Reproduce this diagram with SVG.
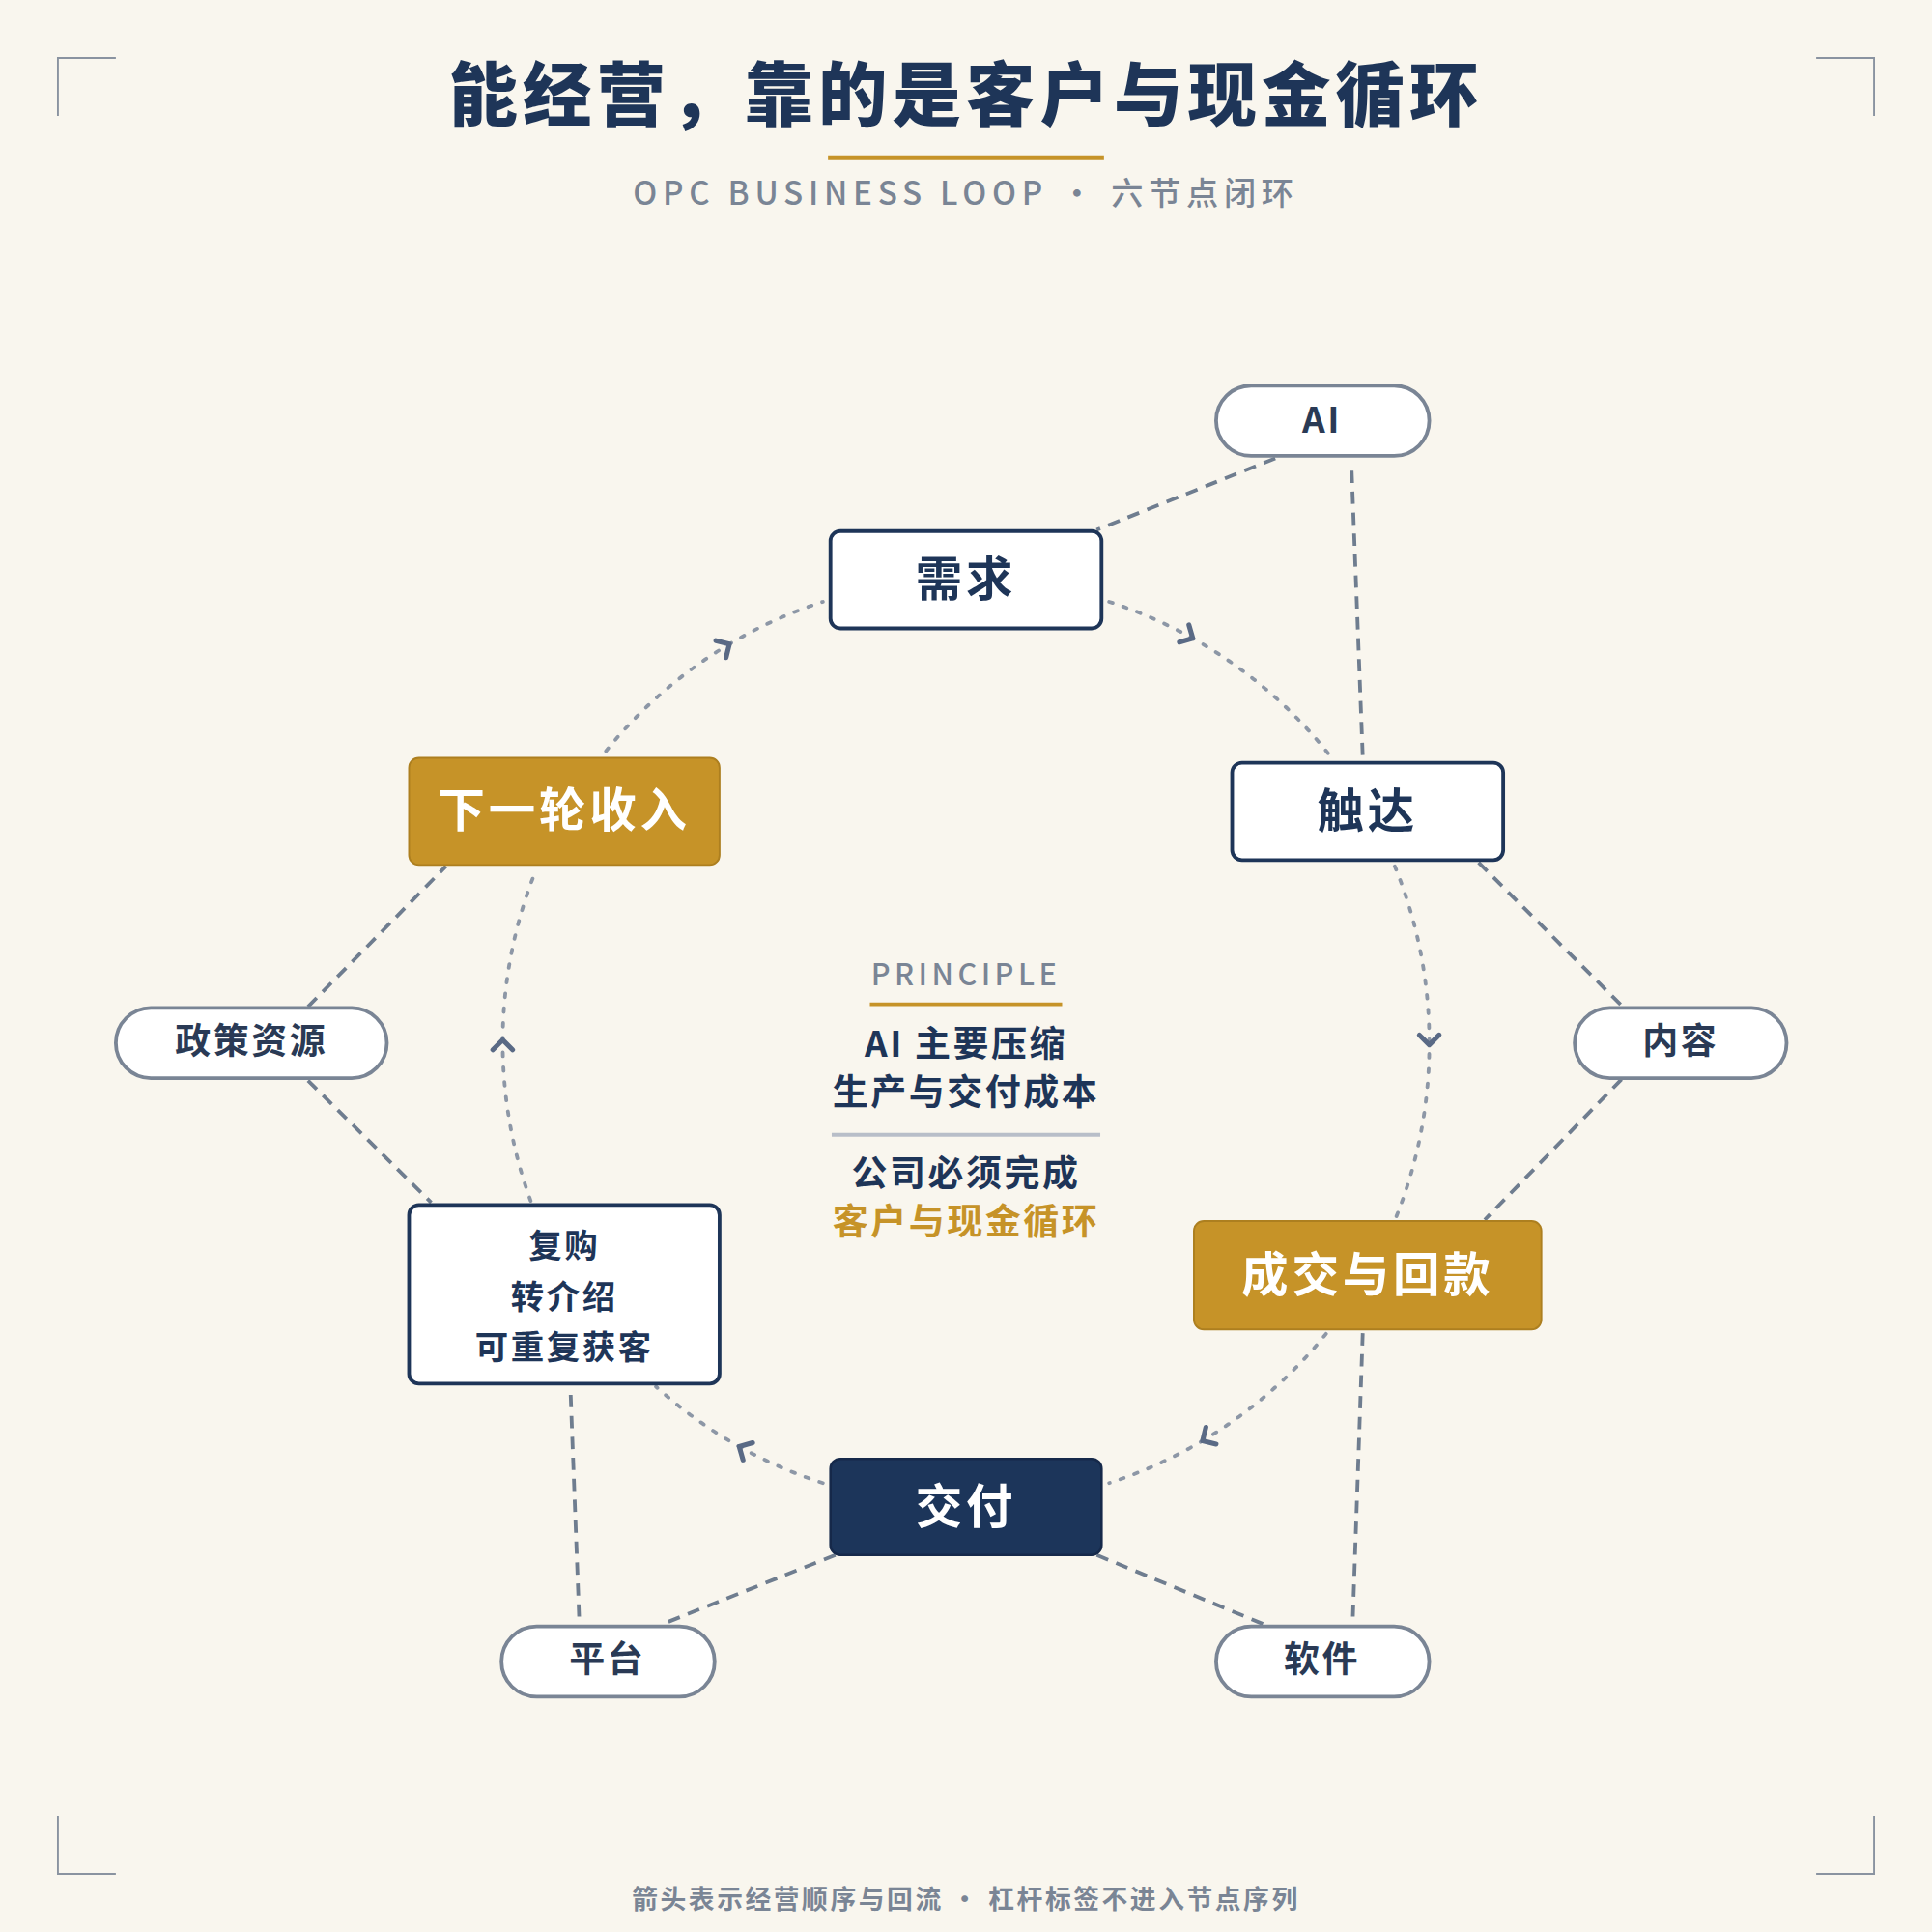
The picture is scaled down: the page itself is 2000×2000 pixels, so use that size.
<svg xmlns="http://www.w3.org/2000/svg" width="2000" height="2000" viewBox="0 0 2000 2000">
<defs>
<style>
text{font-family:"Noto Sans CJK SC","Noto Sans",sans-serif;text-anchor:middle}
.box{fill:#fff;stroke:#1e3558;stroke-width:3}
.gold{fill:#c69328;stroke:#ad7f1f;stroke-width:1.5}
.navy{fill:#1c355a;stroke:#16294a;stroke-width:2}
.pill{fill:#fff;stroke:#7a8595;stroke-width:3}
.nt{font-size:38px;font-weight:700;fill:#1e3558;letter-spacing:3px}
.wt{font-size:38px;font-weight:700;fill:#fff;letter-spacing:3px}
.pt{font-size:29px;font-weight:700;fill:#2a3a55;letter-spacing:2px}
.ct{font-size:29px;font-weight:700;fill:#1e3558;letter-spacing:2px}
.lever{stroke:#6f7d8f;stroke-width:3;stroke-dasharray:10 7;fill:none}
.cyc{stroke:#8d97a6;stroke-width:3;stroke-dasharray:3 9;stroke-linecap:round;fill:none;marker-mid:url(#chev)}
.corner{stroke:#8a93a0;stroke-width:1.5;fill:none}
</style>
<marker id="chev" markerUnits="userSpaceOnUse" markerWidth="24" markerHeight="24" refX="12" refY="12" orient="auto" viewBox="0 0 24 24">
<path d="M6 4 L14 12 L6 20" fill="none" stroke="#5a6a85" stroke-width="4" stroke-linecap="round" stroke-linejoin="round"/>
</marker>
</defs>
<rect width="2000" height="2000" fill="#f9f6ee"/>
<g transform="scale(1.27551)">
<g id="corners">
<path class="corner" d="M47 94V47H94M1474 47H1521V94M47 1474V1521H94M1474 1521H1521V1474"/>
</g>
<g id="title">
<text x="784" y="97" style="font-size:56px;font-weight:900;fill:#1e3558;letter-spacing:4px">能经营，靠的是客户与现金循环</text>
<line x1="672" y1="128" x2="896" y2="128" stroke="#c69328" stroke-width="4"/>
<text x="784" y="166" style="font-size:26px;font-weight:500;fill:#7a8595;letter-spacing:4.5px">OPC BUSINESS LOOP  •  六节点闭环</text>
</g>
<g id="connectors">
<path class="lever" d="M1035 372L890 430M1097 382L1106 614M1200 700L1318 818M1316 876L1205 990M1106 1082L1098 1312M1025 1318L890 1262M678 1262L538 1318M470 1312L463 1128M250 817L362 703M250 877L350 976"/>
<path class="cyc" d="M900.2 488.4A376 376 0 0 1 966.3 517.1A376 376 0 0 1 1080.3 614.4"/>
<path class="cyc" d="M1132 703A376 376 0 0 1 1160 846A376 376 0 0 1 1133 988"/>
<path class="cyc" d="M1076.2 1082.6A376 376 0 0 1 977.7 1168.3A376 376 0 0 1 900.2 1203.6"/>
<path class="cyc" d="M667.8 1203.6A376 376 0 0 1 601.7 1175A376 376 0 0 1 532.4 1125.4"/>
<path class="cyc" d="M430.7 974.6A376 376 0 0 1 408 846A376 376 0 0 1 435.4 705.2"/>
<path class="cyc" d="M491.8 609.5A376 376 0 0 1 590.3 523.7A376 376 0 0 1 667.8 488.4"/>
</g>
<g id="n-xuqiu"><rect class="box" x="674" y="431" width="220" height="79" rx="8"/><text class="nt" x="784" y="484">需求</text></g>
<g id="n-chuda"><rect class="box" x="1000" y="619" width="220" height="79" rx="8"/><text class="nt" x="1110" y="672">触达</text></g>
<g id="n-chengjiao"><rect class="gold" x="969" y="991" width="282" height="88" rx="8"/><text class="wt" x="1110" y="1048">成交与回款</text></g>
<g id="n-jiaofu"><rect class="navy" x="674" y="1184" width="220" height="78" rx="8"/><text class="wt" x="784" y="1236">交付</text></g>
<g id="n-fugou"><rect class="box" x="332" y="978" width="252" height="145" rx="8"/>
<text class="pt" style="font-size:27px;fill:#1e3558" x="458" y="1021">复购</text>
<text class="pt" style="font-size:27px;fill:#1e3558" x="458" y="1062">转介绍</text>
<text class="pt" style="font-size:27px;fill:#1e3558" x="458" y="1103">可重复获客</text></g>
<g id="n-xiayilun"><rect class="gold" x="332" y="615" width="252" height="87" rx="8"/><text class="wt" x="458" y="671">下一轮收入</text></g>
<g id="p-ai"><rect class="pill" x="987" y="313" width="173" height="57" rx="28.5"/><text class="pt" x="1073" y="351">AI</text></g>
<g id="p-neirong"><rect class="pill" x="1278" y="818" width="172" height="57" rx="28.5"/><text class="pt" x="1364" y="855">内容</text></g>
<g id="p-ruanjian"><rect class="pill" x="987" y="1320" width="173" height="57" rx="28.5"/><text class="pt" x="1073" y="1357">软件</text></g>
<g id="p-pingtai"><rect class="pill" x="407" y="1320" width="173" height="57" rx="28.5"/><text class="pt" x="493" y="1357">平台</text></g>
<g id="p-zhengce"><rect class="pill" x="94" y="818" width="220" height="57" rx="28.5"/><text class="pt" x="204" y="855">政策资源</text></g>
<g id="center">
<text x="784" y="800" style="font-size:24px;font-weight:500;fill:#7a8595;letter-spacing:3.5px">PRINCIPLE</text>
<line x1="706" y1="815" x2="862" y2="815" stroke="#c69328" stroke-width="3"/>
<text class="ct" x="784" y="858">AI 主要压缩</text>
<text class="ct" x="784" y="897">生产与交付成本</text>
<line x1="675" y1="921" x2="893" y2="921" stroke="#b8bec8" stroke-width="3"/>
<text class="ct" x="784" y="963">公司必须完成</text>
<text class="ct" x="784" y="1002" style="fill:#c69328">客户与现金循环</text>
</g>
<g id="footer"><text x="784" y="1549" style="font-size:21px;font-weight:700;fill:#7a8595;letter-spacing:2px">箭头表示经营顺序与回流  •  杠杆标签不进入节点序列</text></g>
</g>
</svg>
